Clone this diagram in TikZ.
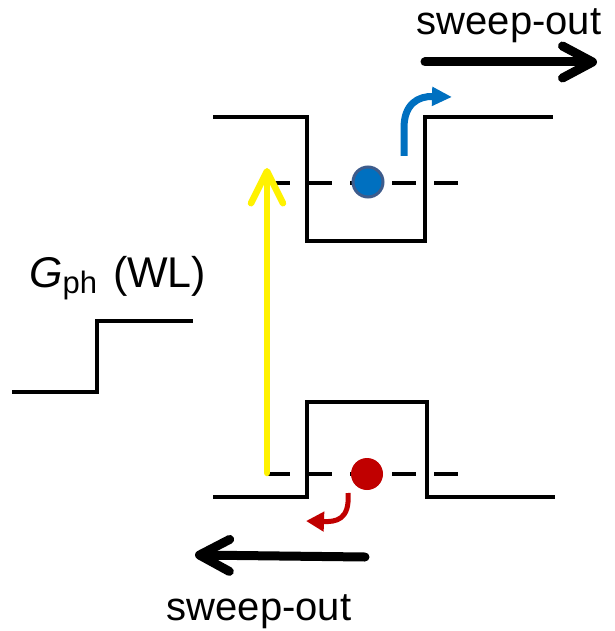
\documentclass[tikz,border=0pt]{standalone}
\usepackage{fontspec}
\setmainfont{Liberation Sans}
\usetikzlibrary{arrows.meta}
\definecolor{eblue}{RGB}{0,112,192}
\definecolor{eedge}{RGB}{62,92,140}
\definecolor{hred}{RGB}{192,0,0}
\tikzset{
  band/.style={line width=4pt},
  level/.style={line width=4pt, dash pattern=on 24pt off 18pt},
  sweeparrow/.style={line width=9pt, line cap=round, -{Straight Barb[length=30pt,width=32pt,round]}},
  lbl/.style={inner sep=0pt, font=\fontsize{40}{48}\selectfont}
}
\begin{document}
\begin{tikzpicture}[x=1pt,y=-1pt]
	\useasboundingbox (0,0) rectangle (614,631);
	% G_ph step
	\draw[band] (12,392) -- (97,392) -- (97,321) -- (193,321);
	\node[lbl, anchor=base west, font=\fontsize{43}{50}\selectfont] (gph) at (29,287)
		{\textit{G}\raisebox{-6pt}{\fontsize{31}{31}\selectfont ph}\hspace{4pt} (WL)};
	% conduction band well
	\draw[band] (213,117) -- (307,117) -- (307,241) -- (425,241) -- (425,117) -- (553,117);
	\draw[level] (266,183) -- (458,183);
	% valence band barrier
	\draw[band] (213,497) -- (307,497) -- (307,402) -- (427,402) -- (427,497) -- (555,497);
	\draw[level] (266,474) -- (458,474);
	% excitation
	\coordinate (ybot) at (267,473);
	\coordinate (ytop) at (267,168);
	\draw[yellow, line width=6.5pt, line cap=round, -{Straight Barb[length=32pt,width=32pt,round]}] (ybot) -- (ytop);
	% electron and hole
	\node[circle, fill=eblue, draw=eedge, line width=3pt, minimum size=30pt, inner sep=0pt] (el) at (368,182) {};
	\node[circle, fill=hred, minimum size=32pt, inner sep=0pt] (ho) at (367,474) {};
	% escape paths
	\coordinate (eout) at (452,97);
	\draw[eblue, line width=7pt, -{Triangle[length=20pt,width=18pt]}] (404,156) -- (404,128) .. controls (404,104) and (418,96) .. (eout);
	\coordinate (hout) at (306,521);
	\draw[hred, line width=5pt, -{Triangle[length=18pt,width=19pt]}] (348,493) .. controls (350,520) and (336,522) .. (hout);
	% sweep-out
	\coordinate (ta) at (425,62);
	\coordinate (tb) at (597,62);
	\draw[sweeparrow] (ta) -- (tb);
	\node[lbl, anchor=base] (stop) at (509,35) {sweep-out};
	\coordinate (ba) at (365,557);
	\coordinate (bb) at (195,555);
	\draw[sweeparrow] (ba) -- (bb);
	\node[lbl, anchor=base] (sbot) at (259,620) {sweep-out};
\end{tikzpicture}
\end{document}
